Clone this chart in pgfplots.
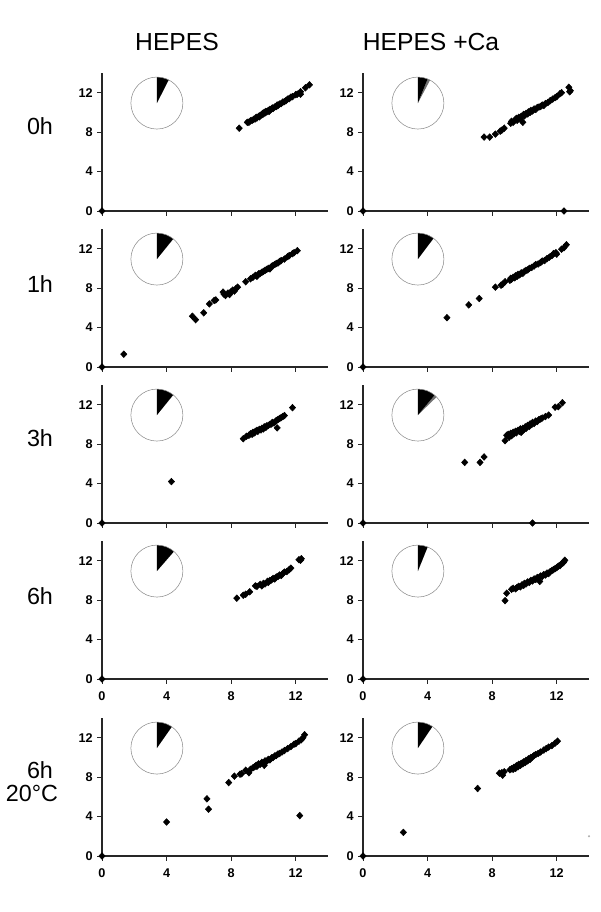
\documentclass[border=0pt]{standalone}
\usepackage{fontspec}
\setmainfont{Liberation Sans}
\usepackage{pgfplots}
\pgfplotsset{compat=1.18}

\pgfplotsset{
  panel/.style={
    width=169.5pt, height=103.5pt, scale only axis,
    xmin=0, xmax=14, ymin=0, ymax=14,
    axis x line*=bottom, axis y line*=left,
    axis line style={-, line width=0.9pt, black!85},
    xtick={0,4,8,12}, ytick={0,4,8,12},
    tick align=outside, major tick length=3.5pt,
    tick style={line width=0.7pt, black!85},
    ticklabel style={font=\fontsize{9.5}{10}\selectfont\bfseries},
    xticklabel style={yshift=-2.5pt},
    /pgf/number format/assume math mode=true,
    clip=false, anchor=south west,
  },
  nox/.style={xticklabels={}},
  pts/.style={only marks, mark=diamond*, mark size=2.5pt, black,
    mark options={xscale=1.25}},
}

% pie inset: #1 black wedge (deg), #2 grey wedge after it (deg)
\newcommand{\pie}[2]{%
  \fill[black!55] (axis cs:3.4,10.95) -- ++(90-#1:19.5pt)
     arc[start angle=90-#1, end angle=90-#1-#2, radius=19.5pt] -- cycle;
  \fill[black] (axis cs:3.4,10.95) -- ++(90:19.5pt)
     arc[start angle=90, end angle=90-#1, radius=19.5pt] -- cycle;
  \draw[black!45, line width=0.4pt] (axis cs:3.4,10.95) circle[radius=19.5pt];
}

\begin{document}
\begin{tikzpicture}
\path[use as bounding box] (0,0) rectangle (450pt,-684pt);

\node[font=\fontsize{18.5}{20}\selectfont] at (132.75pt,-31.5pt) {HEPES};
\node[font=\fontsize{18.5}{20}\selectfont] at (323.25pt,-31.5pt) {HEPES +Ca};

\node[font=\fontsize{17.5}{20}\selectfont] at (30pt,-94.5pt) {0h};
\node[font=\fontsize{17.5}{20}\selectfont] at (30pt,-213pt) {1h};
\node[font=\fontsize{17.5}{20}\selectfont] at (30pt,-328.5pt) {3h};
\node[font=\fontsize{17.5}{20}\selectfont] at (30pt,-447pt) {6h};
\node[font=\fontsize{17.5}{20}\selectfont] at (30pt,-577.5pt) {6h};
\node[font=\fontsize{17.5}{20}\selectfont] at (24pt,-595pt) {20°C};

% ---- 0h ----
\begin{axis}[panel, nox, at={(76.5pt,-158.25pt)}]
\pie{27}{0}
\addplot[pts] coordinates {
(0,0)(8.5,8.4)(9.0,9.0)(9.1,9.0)(9.2,9.15)(9.3,9.2)(9.4,9.3)(9.5,9.35)
(9.55,9.5)(9.6,9.45)(9.7,9.6)(9.75,9.55)(9.8,9.7)(9.9,9.75)(9.95,9.9)
(10.0,9.85)(10.05,10.0)(10.1,9.95)(10.15,10.1)(10.2,10.05)(10.3,10.2)
(10.35,10.1)(10.4,10.3)(10.5,10.35)(10.55,10.45)(10.6,10.4)(10.7,10.55)
(10.8,10.6)(10.85,10.75)(10.9,10.7)(11.0,10.85)(11.1,10.9)(11.2,11.05)
(11.3,11.1)(11.4,11.2)(11.5,11.35)(11.6,11.4)(11.7,11.55)(11.8,11.6)
(12.0,11.8)(12.1,11.85)(12.3,12.1)(12.3,11.85)(12.6,12.5)(12.85,12.8)
};
\end{axis}

\begin{axis}[panel, nox, at={(272.25pt,-158.25pt)}]
\pie{22}{6}
\addplot[pts] coordinates {
(0,0)(12.45,0)(7.5,7.5)(7.85,7.5)(8.2,7.8)(8.5,8.1)(8.6,8.2)(8.75,8.4)
(9.15,8.9)(9.2,9.1)(9.3,9.0)(9.4,9.2)(9.5,9.4)(9.55,9.2)(9.65,9.5)
(9.75,9.35)(9.8,9.6)(9.9,9.0)(9.95,9.8)(10.0,9.65)(10.1,9.9)(10.2,9.85)
(10.25,10.05)(10.35,10.0)(10.4,10.2)(10.5,10.15)(10.6,10.35)(10.7,10.3)
(10.8,10.5)(10.9,10.55)(11.0,10.6)(11.1,10.75)(11.2,10.7)(11.3,10.9)
(11.45,11.0)(11.6,11.2)(11.75,11.35)(11.9,11.5)(12.0,11.6)(12.2,11.9)
(12.3,12.0)(12.75,12.55)(12.85,12.2)(12.8,12.1)
};
\end{axis}

% ---- 1h ----
\begin{axis}[panel, nox, at={(76.5pt,-275.25pt)}]
\pie{39}{0}
\addplot[pts] coordinates {
(0,0)(1.35,1.3)(5.6,5.15)(5.8,4.8)(6.3,5.5)(6.65,6.4)(6.95,6.75)(7.05,6.8)
(7.5,7.6)(7.55,7.4)(7.65,7.25)(7.8,7.5)(7.9,7.35)(8.0,7.65)(8.1,7.8)
(8.2,7.7)(8.3,7.95)(8.4,8.1)(8.9,8.65)(9.2,8.95)(9.35,9.1)(9.5,9.3)
(9.6,9.2)(9.7,9.45)(9.8,9.5)(9.9,9.6)(10.0,9.7)(10.1,9.8)(10.2,9.9)
(10.3,10.0)(10.4,9.95)(10.5,10.2)(10.6,10.3)(10.7,10.4)(10.8,10.5)
(10.9,10.55)(11.0,10.7)(11.1,10.8)(11.3,10.95)(11.5,11.2)(11.6,11.3)
(11.8,11.5)(11.9,11.6)(12.1,11.8)
};
\end{axis}

\begin{axis}[panel, nox, at={(272.25pt,-275.25pt)}]
\pie{37}{0}
\addplot[pts] coordinates {
(0,0)(5.2,5.0)(6.55,6.3)(7.2,6.95)(8.2,8.1)(8.55,8.3)(8.65,8.4)(8.8,8.65)
(9.1,8.8)(9.15,9.0)(9.2,8.9)(9.3,9.1)(9.4,9.05)(9.45,9.25)(9.55,9.2)
(9.6,9.4)(9.7,9.35)(9.8,9.55)(9.9,9.5)(10.0,9.7)(10.1,9.8)(10.2,9.85)
(10.3,10.0)(10.45,10.1)(10.6,10.25)(10.7,10.4)(10.85,10.45)(11.0,10.6)
(11.1,10.75)(11.25,10.8)(11.4,11.0)(11.55,11.15)(11.7,11.3)(11.8,11.5)
(11.95,11.6)(12.0,11.45)(12.3,11.95)(12.45,12.1)(12.6,12.4)
};
\end{axis}

% ---- 3h ----
\begin{axis}[panel, nox, at={(76.5pt,-392.25pt)}]
\pie{39}{0}
\addplot[pts] coordinates {
(0,0)(4.3,4.2)(8.75,8.55)(8.95,8.8)(9.1,8.9)(9.2,9.05)(9.3,9.0)(9.35,9.2)
(9.45,9.15)(9.5,9.3)(9.6,9.4)(9.65,9.3)(9.75,9.5)(9.85,9.45)(9.9,9.6)
(10.0,9.55)(10.05,9.75)(10.15,9.7)(10.2,9.85)(10.3,9.9)(10.4,10.0)
(10.5,10.05)(10.55,10.2)(10.65,10.15)(10.75,10.3)(10.8,10.4)(10.9,10.5)
(10.85,9.65)(11.0,10.6)(11.1,10.7)(11.2,10.8)(11.3,10.9)(11.8,11.7)
};
\end{axis}

\begin{axis}[panel, nox, at={(272.25pt,-392.25pt)}]
\pie{40}{6}
\addplot[pts] coordinates {
(0,0)(10.5,0)(6.3,6.15)(7.25,6.15)(7.5,6.7)(8.8,8.35)(8.9,8.9)(9.0,9.0)
(9.05,8.7)(9.15,9.1)(9.2,8.85)(9.3,9.2)(9.35,9.05)(9.45,9.3)(9.5,9.15)
(9.6,9.4)(9.7,9.3)(9.75,9.55)(9.8,9.2)(9.9,9.6)(9.95,9.45)(10.05,9.75)
(10.1,9.6)(10.2,9.9)(10.3,9.8)(10.35,10.05)(10.45,10.0)(10.5,10.2)
(10.6,10.1)(10.7,10.35)(10.8,10.3)(10.9,10.5)(11.0,10.55)(11.1,10.65)
(11.3,10.8)(11.5,10.95)(11.9,11.75)(12.1,11.8)(12.35,12.2)
};
\end{axis}

% ---- 6h ----
\begin{axis}[panel, at={(76.5pt,-509.25pt)}]
\pie{41}{0}
\addplot[pts] coordinates {
(0,0)(8.35,8.2)(8.75,8.5)(8.9,8.6)(9.15,8.85)(9.5,9.45)(9.6,9.4)(9.8,9.6)
(9.9,9.45)(10.0,9.7)(10.1,9.65)(10.25,9.9)(10.3,9.8)(10.4,10.0)
(10.5,10.05)(10.6,10.2)(10.7,10.15)(10.8,10.35)(10.9,10.4)(11.0,10.55)
(11.1,10.5)(11.2,10.7)(11.3,10.85)(11.45,10.9)(11.6,11.1)(11.7,11.25)
(12.2,12.1)(12.3,12.05)(12.35,12.2)
};
\end{axis}

\begin{axis}[panel, at={(272.25pt,-509.25pt)}]
\pie{22}{0}
\addplot[pts] coordinates {
(0,0)(8.8,7.95)(8.9,8.7)(9.2,9.1)(9.3,9.2)(9.45,9.15)(9.55,9.3)(9.65,9.4)
(9.75,9.35)(9.85,9.55)(9.95,9.5)(10.0,9.7)(10.1,9.65)(10.2,9.85)
(10.3,9.8)(10.4,10.0)(10.5,9.95)(10.6,10.15)(10.7,10.1)(10.8,10.3)
(10.9,10.25)(10.95,9.9)(11.0,10.45)(11.1,10.4)(11.2,10.6)(11.3,10.55)
(11.4,10.75)(11.5,10.7)(11.6,10.9)(11.7,11.0)(11.8,11.1)(11.9,11.2)
(12.0,11.3)(12.1,11.45)(12.2,11.5)(12.3,11.7)(12.4,11.8)(12.5,12.05)
(12.45,11.9)
};
\end{axis}

% ---- 6h, 20 C ----
\begin{axis}[panel, at={(76.5pt,-642pt)}]
\pie{35}{0}
\addplot[pts] coordinates {
(0,0)(4.0,3.45)(6.5,5.8)(6.6,4.75)(7.85,7.45)(8.2,8.1)(8.55,8.3)(8.65,8.35)
(8.9,8.7)(9.1,8.45)(9.2,8.8)(9.35,8.95)(9.45,9.05)(9.55,9.2)(9.6,9.1)
(9.7,9.35)(9.8,9.3)(9.9,9.5)(10.0,9.45)(10.05,9.2)(10.1,9.65)(10.2,9.6)
(10.3,9.8)(10.4,9.75)(10.5,9.95)(10.6,10.0)(10.7,10.15)(10.8,10.2)
(10.9,10.35)(11.0,10.4)(11.15,10.55)(11.3,10.7)(11.5,10.9)(11.7,11.1)
(11.9,11.35)(12.0,11.4)(12.2,11.65)(12.35,11.8)(12.45,12.0)(12.55,12.3)
(12.25,4.1)
};
\end{axis}

\begin{axis}[panel, at={(272.25pt,-642pt)}]
\pie{34}{0}
\addplot[pts] coordinates {
(0,0)(2.5,2.4)(7.1,6.85)(8.45,8.4)(8.6,8.45)(8.65,8.2)(8.75,8.55)(9.1,8.75)
(9.2,8.85)(9.3,8.8)(9.35,9.0)(9.45,8.9)(9.5,9.15)(9.6,9.05)(9.65,9.3)
(9.75,9.2)(9.8,9.4)(9.9,9.35)(9.95,9.55)(10.05,9.5)(10.1,9.7)(10.2,9.65)
(10.25,9.85)(10.35,9.8)(10.4,10.0)(10.5,10.05)(10.6,10.2)(10.7,10.3)
(10.85,10.4)(11.0,10.55)(11.2,10.75)(11.35,10.9)(11.5,11.05)(11.7,11.2)
(11.9,11.45)(12.05,11.65)
};
\addplot[only marks, mark=*, mark size=0.6pt, black!30] coordinates {(14,2.0)};
\end{axis}
\end{tikzpicture}
\end{document}
